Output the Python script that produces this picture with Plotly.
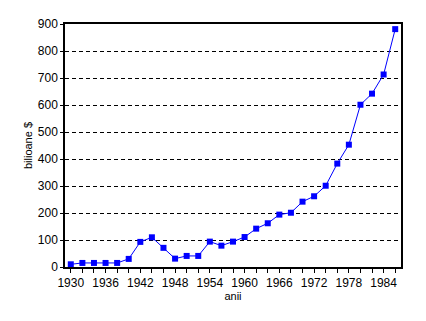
import plotly.graph_objects as go

years = list(range(1930, 1988, 2))
values = [10, 15, 15, 15, 15, 30, 93, 110, 71, 31, 41, 41, 94, 79, 94, 111,
          142, 162, 194, 201, 242, 262, 301, 383, 453, 601, 642, 713, 881]
x_tick_vals = list(range(1930, 1988, 2))
x_tick_text = [str(y) if (y - 1930) % 6 == 0 else "" for y in x_tick_vals]
y_tick_vals = list(range(0, 1000, 100))

font = "Liberation Sans, Arial, sans-serif"

fig = go.Figure()
fig.add_trace(go.Scatter(
    x=years, y=values, mode="lines+markers",
    line=dict(color="#0000ff", width=1),
    marker=dict(symbol="square", size=6, color="#0000ff"),
    showlegend=False,
))

fig.update_layout(
    width=426, height=321,
    margin=dict(l=65, r=25, t=24, b=54),
    paper_bgcolor="white", plot_bgcolor="white",
    font=dict(family=font, size=12, color="black"),
)
fig.update_xaxes(
    range=[1929, 1987], tickvals=x_tick_vals, ticktext=x_tick_text,
    ticks="outside", ticklen=4, tickcolor="black", tickwidth=1,
    showline=True, linecolor="black", linewidth=1.5, mirror=True,
    showgrid=False, zeroline=False,
    tickfont=dict(family=font, size=12),
    title=dict(text="anii", font=dict(family=font, size=11), standoff=0),
)
fig.update_yaxes(
    range=[0, 900], tickvals=y_tick_vals,
    ticks="outside", ticklen=3, tickcolor="black", tickwidth=1,
    showline=True, linecolor="black", linewidth=1.5, mirror=True,
    showgrid=True, gridcolor="black", gridwidth=1, griddash="4px,3px",
    zeroline=False,
    tickfont=dict(family=font, size=12),
    title=dict(text="bilioane $", font=dict(family=font, size=11), standoff=3),
)

fig.write_html("out.html")
